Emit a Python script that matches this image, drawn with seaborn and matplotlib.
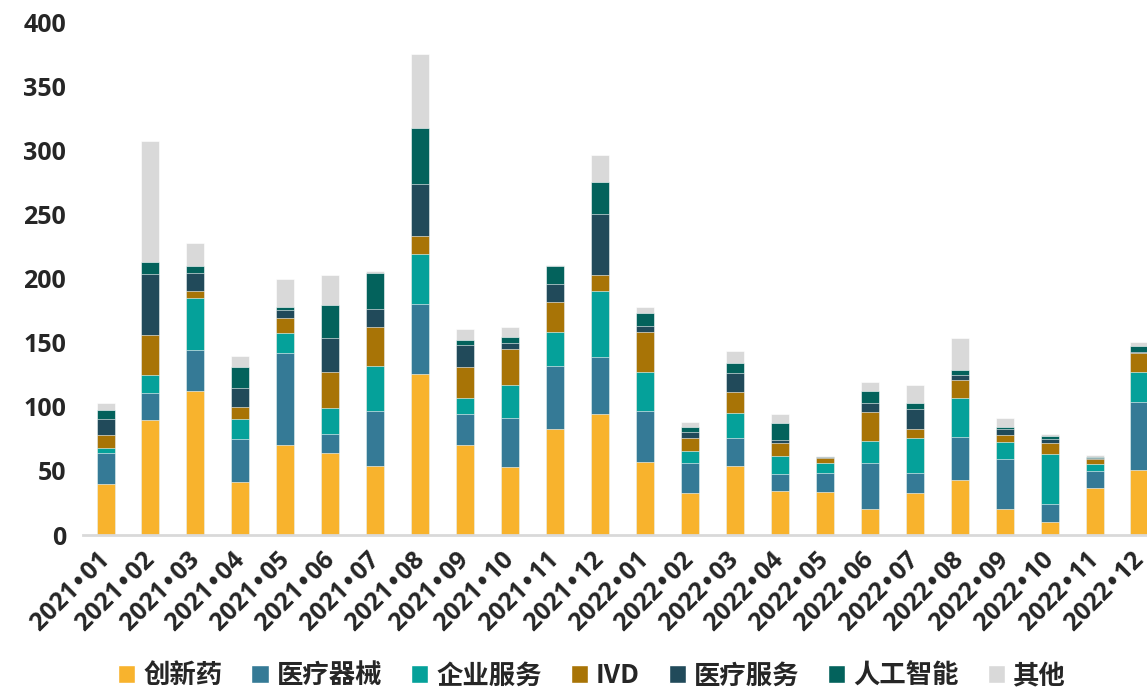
import numpy as np
import pandas as pd
import matplotlib
matplotlib.use("Agg")
import matplotlib.pyplot as plt
import matplotlib.transforms as mtransforms
from matplotlib.patches import Patch
import seaborn as sns

months = ["2021•01", "2021•02", "2021•03", "2021•04", "2021•05", "2021•06",
          "2021•07", "2021•08", "2021•09", "2021•10", "2021•11", "2021•12",
          "2022•01", "2022•02", "2022•03", "2022•04", "2022•05", "2022•06",
          "2022•07", "2022•08", "2022•09", "2022•10", "2022•11", "2022•12"]

categories = ["创新药", "医疗器械", "企业服务", "IVD", "医疗服务", "人工智能", "其他"]

chuangxinyao = [40, 90, 112, 41, 70.5, 64, 54, 125.5, 70, 53, 83, 94,
                57, 32.5, 54, 34, 33.5, 20.5, 32.5, 43, 20, 10.5, 37, 50.5]
qixie = [24, 21, 32.5, 34, 71.5, 15, 42.5, 55, 24, 38.5, 49, 44.5,
         40, 24, 21.5, 13.5, 15, 35.5, 16, 33.5, 39, 14, 13, 53.5]
qiye = [4, 14, 40.5, 15.5, 15.5, 20, 35, 39, 13, 25.5, 26.5, 52,
        30, 9, 20, 14, 8, 17, 27, 30, 13.5, 38.5, 5, 23.5]
ivd = [10, 31, 5.5, 9.5, 12, 28, 31, 13.5, 24, 28, 23, 12.5,
       31, 10, 16, 10.5, 3.3, 23, 7.5, 14, 5.5, 9, 4, 14.5]
yiliaofuwu = [12.5, 47.5, 14, 15, 6, 27, 14, 40.5, 17, 5, 14, 47.5,
              5, 5, 15, 2, 0.8, 7, 15.5, 4.5, 5, 3, 1, 1]
ai = [7, 9, 5, 16, 2, 25, 27.5, 44, 4, 4.5, 14, 25,
      10.5, 3.5, 8, 13, 0.6, 9.5, 4.5, 3.5, 1.5, 2.5, 1, 4]
qita = [5.5, 94.5, 18, 8.5, 22, 24, 2, 57.5, 8.5, 8, 1, 20.5,
        4.5, 4.5, 9, 7, 0.5, 7, 14, 25.5, 6.5, 1, 1, 3.5]

colors = ["#F8B32D", "#357A96", "#05A19A", "#A87406", "#214A5A", "#03625C", "#D9D9D9"]

df = pd.DataFrame(
    {"month": months, "创新药": chuangxinyao, "医疗器械": qixie, "企业服务": qiye,
     "IVD": ivd, "医疗服务": yiliaofuwu, "人工智能": ai, "其他": qita}
)
cum = df[categories].cumsum(axis=1)

sns.set_style("white")
plt.rcParams["font.family"] = ["Noto Sans CJK SC", "DejaVu Sans"]

fig = plt.figure(figsize=(11.47, 6.89), dpi=100)
ax = fig.add_axes([0.072, 0.2235, 0.9285, 0.7445])

# draw cumulative totals from the top category down so each segment shows
for cat, col in zip(categories[::-1], colors[::-1]):
    sns.barplot(x=df["month"], y=cum[cat], color=col, width=0.4,
                edgecolor="white", linewidth=0.4, saturation=1, ax=ax)

ax.set_ylim(0, 400)
ax.set_xlim(-0.51, 23.18)
ax.set_yticks(range(0, 401, 50))
ax.set_xlabel("")
ax.set_ylabel("")
for s in ["top", "right", "left"]:
    ax.spines[s].set_visible(False)
ax.spines["bottom"].set_color("#D9D9D9")
ax.spines["bottom"].set_linewidth(2)
ax.tick_params(axis="y", length=0, pad=12)
ax.tick_params(axis="x", length=0, pad=9)
plt.setp(ax.get_yticklabels(), fontsize=18, fontweight="bold", family=["Open Sans", "DejaVu Sans"])
ax.set_xticks(range(len(months)))
ax.set_xticklabels([m.replace("•", "\u200a•\u200a") for m in months])
plt.setp(ax.get_xticklabels(), fontsize=18, fontweight="bold", rotation=45,
         ha="right", rotation_mode="anchor", family=["Open Sans", "DejaVu Sans"])
shift = mtransforms.ScaledTranslation(-6 / 72, 0, fig.dpi_scale_trans)
for lbl in ax.get_xticklabels():
    lbl.set_transform(lbl.get_transform() + shift)

handles = [Patch(facecolor=c, label=n) for n, c in zip(categories, colors)]
fig.legend(handles=handles, loc="lower center", ncol=7, frameon=False,
           bbox_to_anchor=(0.516, -0.035), prop={"size": 19, "weight": "bold"},
           handlelength=0.65, handleheight=0.65, handletextpad=0.3, columnspacing=1.1)

fig.savefig("out.png", dpi=100)
